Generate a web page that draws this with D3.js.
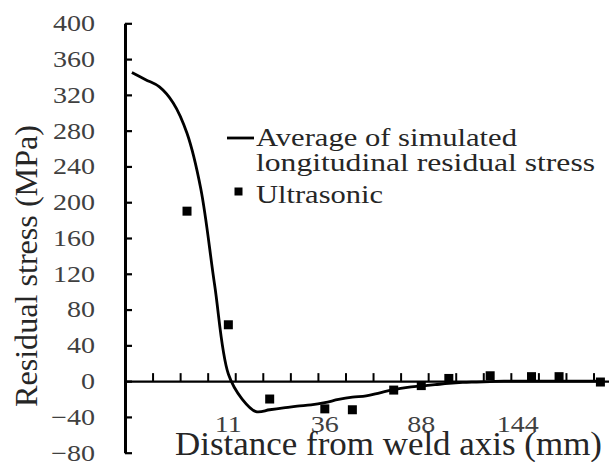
<!DOCTYPE html>
<html>
<head>
<meta charset="utf-8">
<script src="https://cdn.jsdelivr.net/npm/d3@7"></script>
<style>
  html, body { margin: 0; padding: 0; background: #fff; }
  svg { display: block; }
  text { font-family: "Liberation Serif", "Times New Roman", serif; }
</style>
</head>
<body>
<script>
// ---------------- data ----------------
const categoryCount = 36;                       // categories along the weld-distance axis
const xTickLabels = ["11", "36", "88", "144"];  // distance labels (mm)
const xTickLabelCategories = [7, 14, 21, 28];   // category index carrying each label
const yTickValues = [-80, -40, 0, 40, 80, 120, 160, 200, 240, 280, 320, 360, 400];

// Average of simulated longitudinal residual stress (MPa), one value per category 0..34
const simulatedStress = [345, 337, 329, 311, 277, 215, 108, 8, -20, -34,
                         -32, -30, -28, -26.5, -24, -20.5, -18, -16.5, -13, -9.5,
                         -7, -5.5, -4, -2.5, -1.5, -1, -0.5, 0, 0, 0,
                         0, 0, 0, 0, 0];

// Ultrasonic measurements
const ultrasonicCategories = [4, 7, 10, 14, 16, 19, 21, 23, 26, 29, 31, 34];
const ultrasonicStress     = [190, 63, -20, -31, -32, -10, -5, 3, 6, 5, 5, -1];

const legendLabels = [["Average of simulated", "longitudinal residual stress"], ["Ultrasonic"]];
const xTitle = "Distance from weld axis (mm)";
const yTitle = "Residual stress (MPa)";

// ---------------- drawing ----------------
const W = 609, H = 462;
const svg = d3.select("body").append("svg").attr("width", W).attr("height", H);

const catW = 13.78;
const x = d3.scaleLinear().domain([0, categoryCount]).range([125, 125 + catW * categoryCount]);
const y = d3.scaleLinear().domain([-80, 400]).range([452.7, 23.3]);

function fit(sel, w) {
  sel.attr("textLength", w).attr("lengthAdjust", "spacingAndGlyphs");
}

// y axis
const yAxis = svg.append("g")
  .attr("transform", `translate(${x(0)},0)`)
  .call(d3.axisLeft(y).tickValues(yTickValues).tickSizeInner(-7).tickSizeOuter(0).tickPadding(30));
yAxis.select(".domain").attr("stroke", "#000").attr("stroke-width", 3);
yAxis.selectAll(".tick line").attr("stroke", "#000").attr("stroke-width", 2.2);
yAxis.selectAll(".tick text")
  .attr("font-family", "Liberation Serif, serif")
  .attr("font-size", 23).attr("fill", "#404040")
  .each(function () {
    const t = d3.select(this);
    const n = this.getComputedTextLength();
    t.attr("textLength", n * 1.22).attr("lengthAdjust", "spacingAndGlyphs");
  });

// x axis (tick marks every 2 categories, pointing up)
const xAxis = svg.append("g")
  .attr("transform", `translate(0,${y(0)})`)
  .call(d3.axisBottom(x).tickValues(d3.range(2, categoryCount, 2)).tickSizeInner(-8).tickSizeOuter(0).tickFormat(""));
xAxis.select(".domain").attr("stroke", "#000").attr("stroke-width", 2.2);
xAxis.selectAll(".tick line").attr("stroke", "#000").attr("stroke-width", 2);

// x tick labels
svg.append("g").selectAll("text")
  .data(xTickLabels)
  .join("text")
  .attr("x", (d, i) => x(xTickLabelCategories[i] + 0.5))
  .attr("y", 431.7)
  .attr("text-anchor", "middle")
  .attr("font-size", 23)
  .attr("fill", "#404040")
  .text(d => d)
  .each(function () {
    const n = this.getComputedTextLength();
    d3.select(this).attr("textLength", n * 1.22).attr("lengthAdjust", "spacingAndGlyphs");
  });

// simulated line
const line = d3.line()
  .x((d, i) => x(i + 0.5))
  .y(d => y(d))
  .curve(d3.curveCatmullRom.alpha(0.5));
svg.append("path")
  .datum(simulatedStress)
  .attr("d", line)
  .attr("fill", "none")
  .attr("stroke", "#000")
  .attr("stroke-width", 2.8)
  .attr("stroke-linejoin", "round");

// ultrasonic markers
const ms = 9;
svg.append("g").selectAll("rect")
  .data(ultrasonicStress)
  .join("rect")
  .attr("x", (d, i) => x(ultrasonicCategories[i] + 0.5) - ms / 2)
  .attr("y", d => y(d) - ms / 2)
  .attr("width", ms).attr("height", ms)
  .attr("fill", "#000");

// axis titles
svg.append("text")
  .attr("x", 175).attr("y", 455)
  .attr("font-size", 33).attr("fill", "#262626")
  .text(xTitle)
  .call(fit, 427);

svg.append("text")
  .attr("transform", "translate(37,266) rotate(-90)")
  .attr("text-anchor", "middle")
  .attr("font-size", 32).attr("fill", "#262626")
  .text(yTitle)
  .call(fit, 282);

// legend
const lg = svg.append("g");
lg.append("line")
  .attr("x1", 227).attr("x2", 254).attr("y1", 138).attr("y2", 138)
  .attr("stroke", "#000").attr("stroke-width", 2.8);
lg.append("text").attr("x", 256).attr("y", 145.5)
  .attr("font-size", 26).attr("fill", "#262626")
  .text(legendLabels[0][0]).call(fit, 261);
lg.append("text").attr("x", 256).attr("y", 171)
  .attr("font-size", 26).attr("fill", "#262626")
  .text(legendLabels[0][1]).call(fit, 339);
lg.append("rect")
  .attr("x", 238.5 - 4).attr("y", 191.5 - 4).attr("width", 8).attr("height", 8)
  .attr("fill", "#000");
lg.append("text").attr("x", 256).attr("y", 203)
  .attr("font-size", 26).attr("fill", "#262626")
  .text(legendLabels[1][0]).call(fit, 127);
</script>
</body>
</html>
